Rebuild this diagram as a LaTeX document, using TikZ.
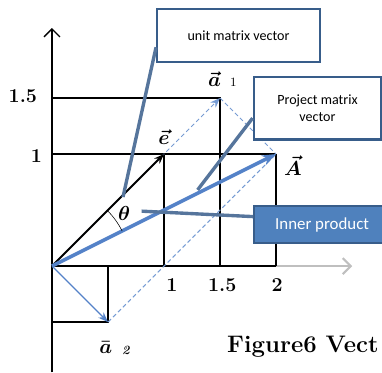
\documentclass[tikz,border=0pt]{standalone}
\usepackage{fontspec}
\newfontfamily\calib{Carlito}
\usetikzlibrary{arrows.meta,positioning}
\definecolor{edgeblue}{RGB}{56,93,138}
\definecolor{fillblue}{RGB}{79,129,189}
\definecolor{vecblue}{RGB}{84,130,200}

\begin{document}
\begin{tikzpicture}[x=2.8cm,y=2.8cm,
  grid/.style={line width=1.3pt},
  heavy/.style={line width=2pt},
  lbl/.style={font=\fontsize{14}{14}\selectfont\bfseries},
  vec/.style={font=\fontsize{15}{15}\selectfont\boldmath,inner sep=1pt},
  callout/.style={draw=edgeblue,line width=1.5pt,fill=white,align=center,inner sep=0pt,
    font=\calib\fontsize{10}{12.5}\selectfont},
  pointer/.style={edgeblue!85!white,line width=2.4pt},
  dashvec/.style={vecblue!80,densely dashed,line width=0.7pt}]
\clip (-0.464,-0.946) rectangle (2.946,2.375);
% axes and grid
\draw[gray!50,line width=1.5pt,-{Straight Barb[length=2mm]}] (0,0) -- (2.68,0);
\draw[line width=0.9pt,-{Straight Barb[length=2mm]}] (0,-0.95) -- (0,2.125);
\draw[heavy] (0,-0.5) -- (0,1.5) -- (1.5,1.5) -- (1.5,0);
\draw[grid] (0,1) -- (2,1);
\draw[grid] (1,1) -- (1,0);
\draw[heavy] (2,1) -- (2,0);
\draw[heavy] (0,0) -- (2,0);
\draw[heavy] (0.5,0) -- (0.5,-0.5) -- (0,-0.5);
\coordinate (O) at (0,0);
\coordinate (e) at (1,1);
\coordinate (a1) at (1.5,1.5);
\coordinate (A) at (2,1);
\coordinate (a2) at (0.5,-0.5);
% vectors
\draw[dashvec,-{Stealth[length=2.5mm]}] (O) -- (a1);
\draw[dashvec] (a1) -- (A);
\draw[dashvec] (a2) -- (A);
\draw[vecblue,line width=0.9pt,-{Stealth[length=2.5mm]}] (O) -- (a2);
\draw[line width=1.3pt,-{Stealth[length=2.5mm]}] (O) -- (e);
\draw[vecblue,line width=2.6pt,-{Stealth[length=3.5mm]}] (O) -- (A);
\draw ([shift={(26.57:0.7)}]O) arc[start angle=26.57,end angle=45,radius=0.7];
\node[vec] (th) at (0.643,0.473) {$\theta$};
% labels
\node[vec] (la1) at (1.45,1.67) {$\vec a$};
\node[font=\small] (la1s) at (1.62,1.64) {1};
\node[vec] (le) at (1.0,1.15) {$\vec e$};
\node[vec] (lA) at (2.15,0.9) {$\vec A$};
\node[vec] (la2) at (0.48,-0.73) {$\bar a$};
\node[font=\small\bfseries\itshape] (la2s) at (0.66,-0.75) {2};
\node[lbl] (y15) at (-0.26,1.52) {1.5};
\node[lbl] (y1) at (-0.14,0.98) {1};
\node[lbl] (x1) at (1.07,-0.17) {1};
\node[lbl] (x15) at (1.52,-0.17) {1.5};
\node[lbl] (x2) at (2.01,-0.17) {2};
\node[font=\fontsize{17}{17}\selectfont\bfseries,anchor=west] (cap) at (1.52,-0.72) {Figure6 Vect};
% callouts
\coordinate (pu) at (0.634,0.616);
\coordinate (pp) at (1.30,0.68);
\coordinate (pi) at (0.80,0.49);
\node[callout,minimum width=4.07cm,minimum height=1.33cm] (unit) at (1.665,2.06) {unit matrix vector};
\node[callout,minimum width=3.19cm,minimum height=1.57cm] (proj) at (2.37,1.41) {Project matrix\\vector};
\node[callout,fill=fillblue,text=white,minimum width=3.4cm,minimum height=0.92cm,
  font=\calib\fontsize{12}{12}\selectfont,anchor=west] (inner) at (1.795,0.37) {Inner product};
\draw[pointer] ([yshift=-3mm]unit.west) -- (pu);
\draw[pointer] ([yshift=-2.5mm]proj.west) -- (pp);
\draw[pointer] ([yshift=2mm]inner.west) -- (pi);
\end{tikzpicture}
\end{document}
